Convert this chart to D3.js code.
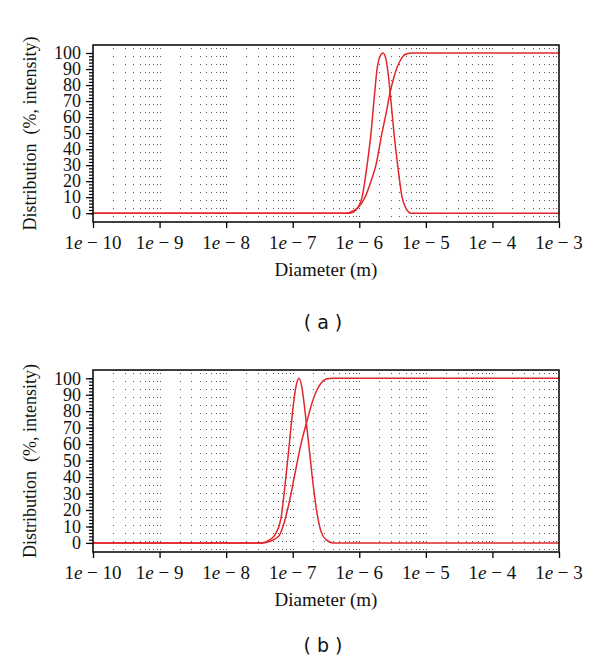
<!DOCTYPE html>
<html>
<head>
<meta charset="utf-8">
<script src="https://cdn.jsdelivr.net/npm/d3@7"></script>
<style>
  body { margin: 0; background: #fff; }
</style>
</head>
<body>
<div id="chart"></div>
<script>
// diameters in metres, values in %
var freqA_d = [1e-10, 7.26e-7, 8.93e-7, 1.10e-6, 1.31e-6, 1.50e-6, 1.66e-6, 1.85e-6, 2.05e-6, 2.27e-6, 2.52e-6, 2.70e-6, 2.99e-6, 3.32e-6, 3.82e-6, 4.39e-6, 5.04e-6, 5.98e-6, 1e-3]
    ,freqA_v = [0, 0, 2, 10, 30, 50, 70, 90, 98, 100, 96, 88, 70, 50, 28, 10, 3, 0, 0]
    ,cumA_d = [1e-10, 6.09e-7, 8.63e-7, 1.22e-6, 1.50e-6, 1.78e-6, 2.19e-6, 2.52e-6, 2.89e-6, 3.32e-6, 3.69e-6, 4.09e-6, 4.54e-6, 5.21e-6, 6.19e-6, 1e-3]
    ,cumA_v = [0, 0, 2, 10, 20, 30, 50, 62, 75, 85, 91, 95, 98, 99.5, 100, 100]
    ,freqB_d = [1e-10, 3.46e-8, 4.56e-8, 5.61e-8, 6.67e-8, 7.66e-8, 8.79e-8, 1.01e-7, 1.12e-7, 1.24e-7, 1.38e-7, 1.53e-7, 1.76e-7, 2.02e-7, 2.32e-7, 2.66e-7, 3.16e-7, 4.03e-7, 1e-3]
    ,freqB_v = [0, 0, 2, 6, 15, 35, 58, 82, 95, 100, 94, 80, 58, 36, 18, 7, 2, 0, 0]
    ,cumB_d = [1e-10, 3.46e-8, 4.56e-8, 6.14e-8, 7.14e-8, 8.79e-8, 1.08e-7, 1.33e-7, 1.64e-7, 1.95e-7, 2.32e-7, 2.66e-7, 3.16e-7, 4.03e-7, 1e-3]
    ,cumB_v = [0, 0, 1, 4, 10, 24, 42, 60, 74, 85, 93, 97, 99.5, 100, 100]
    ,xTicks = [1e-10, 1e-9, 1e-8, 1e-7, 1e-6, 1e-5, 1e-4, 1e-3]
    ,yTicks = [0, 10, 20, 30, 40, 50, 60, 70, 80, 90, 100];

var width = 600, height = 663
    ,serif = "Liberation Serif, DejaVu Serif, serif"
    ,sans = "DejaVu Sans, sans-serif";

var svg = d3.select("#chart").append("svg")
    .attr("width", width)
    .attr("height", height)
    .attr("font-family", serif);

function panel(top, bottom, freq_d, freq_v, cum_d, cum_v, label, labelY) {
    var left = 93, right = 559;

    var x = d3.scaleLog().domain([1e-10, 1e-3]).range([left, right]);
    var y = d3.scaleLinear().domain([-5.5, 105]).range([bottom, top]);

    var g = svg.append("g");

    // dotted grid at every minor decade step
    var minors = [];
    for (var e = -10; e < -3; e++) {
        for (var k = 1; k < 10; k++) minors.push(k * Math.pow(10, e));
    }
    g.selectAll(".grid")
        .data(minors.filter(function(d) { return d > 1e-10; }))
        .enter().append("line")
        .attr("class", "grid")
        .attr("x1", function(d) { return Math.round(x(d)) + 0.5; })
        .attr("x2", function(d) { return Math.round(x(d)) + 0.5; })
        .attr("y1", top + 3)
        .attr("y2", bottom)
        .attr("stroke", "#555")
        .attr("stroke-width", 1)
        .attr("stroke-dasharray", "1,7");

    // x axis
    var gx = g.append("g")
        .attr("transform", "translate(0," + bottom + ")")
        .call(d3.axisBottom(x).tickValues(xTicks).tickSize(6).tickFormat(""));
    gx.select(".domain").remove();
    gx.selectAll("line").attr("stroke", "#000").attr("stroke-width", 1.3);

    gx.selectAll(".lbl")
        .data(xTicks)
        .enter().append("text")
        .attr("class", "lbl")
        .attr("x", function(d) { return x(d); })
        .attr("y", 27)
        .attr("text-anchor", "middle")
        .attr("font-size", 19)
        .attr("font-family", serif)
        .attr("fill", "#111")
        .each(function(d) {
            var t = d3.select(this);
            var p = Math.round(Math.log10(d));
            t.append("tspan").text("1");
            t.append("tspan").attr("font-style", "italic").text("e");
            t.append("tspan").text(" \u2212 " + (-p));
        });

    // y axis: minor ticks every 2, labels every 10
    var gy = g.append("g")
        .attr("transform", "translate(" + left + ",0)")
        .call(d3.axisLeft(y).tickValues(d3.range(0, 101, 2)).tickSize(4).tickFormat(""));
    gy.select(".domain").remove();
    gy.selectAll("line").attr("stroke", "#000").attr("stroke-width", 1.2);

    var gy2 = g.append("g")
        .attr("transform", "translate(" + left + ",0)")
        .call(d3.axisLeft(y).tickValues(yTicks).tickSize(7).tickPadding(5));
    gy2.select(".domain").remove();
    gy2.selectAll("line").attr("stroke", "#000").attr("stroke-width", 1.2);
    gy2.selectAll("text")
        .attr("font-size", 18)
        .attr("fill", "#111")
        .attr("font-family", serif);

    // curves
    var line = d3.line()
        .x(function(d) { return x(d[0]); })
        .y(function(d) { return y(d[1]); })
        .curve(d3.curveMonotoneX);

    [[freq_d, freq_v], [cum_d, cum_v]].forEach(function(s) {
        g.append("path")
            .datum(d3.zip(s[0], s[1]))
            .attr("d", line)
            .attr("fill", "none")
            .attr("stroke", "#e3262b")
            .attr("stroke-width", 1.5);
    });

    // frame
    g.append("rect")
        .attr("x", left)
        .attr("y", top)
        .attr("width", right - left)
        .attr("height", bottom - top)
        .attr("fill", "none")
        .attr("stroke", "#000")
        .attr("stroke-width", 1.5);

    // titles
    g.append("text")
        .attr("transform", "translate(36," + ((top + bottom) / 2) + ") rotate(-90)")
        .attr("text-anchor", "middle")
        .attr("font-size", 18)
        .attr("fill", "#111")
        .attr("xml:space", "preserve")
        .text("Distribution  (%, intensity)");

    g.append("text")
        .attr("x", (left + right) / 2)
        .attr("y", bottom + 54)
        .attr("text-anchor", "middle")
        .attr("font-size", 19)
        .attr("fill", "#111")
        .text("Diameter (m)");

    g.append("text")
        .attr("x", (left + right) / 2 - 3)
        .attr("y", labelY)
        .attr("text-anchor", "middle")
        .attr("font-size", 19)
        .attr("font-family", sans)
        .attr("fill", "#111")
        .attr("xml:space", "preserve")
        .text("( " + label + " )");
}

panel(45, 222, freqA_d, freqA_v, cumA_d, cumA_v, "a", 329);
panel(370, 552, freqB_d, freqB_v, cumB_d, cumB_v, "b", 652);
</script>
</body>
</html>
